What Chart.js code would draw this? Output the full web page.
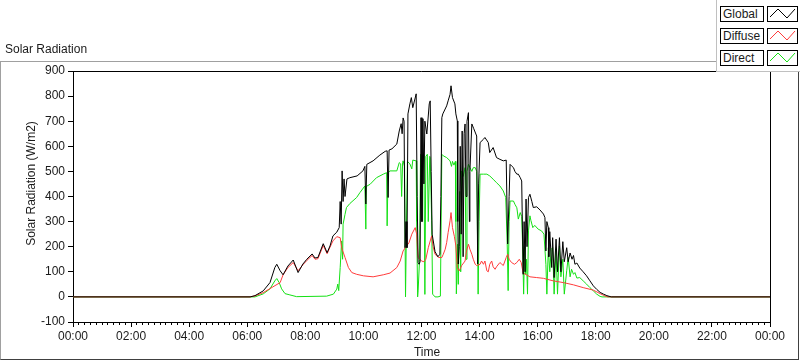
<!DOCTYPE html>
<html>
<head>
<meta charset="utf-8">
<script src="https://cdn.jsdelivr.net/npm/chart.js@4/dist/chart.umd.min.js"></script>
<style>
html,body{margin:0;padding:0;background:#fff;width:800px;height:361px;overflow:hidden;font-family:"Liberation Sans",Arial,sans-serif;}
#wrap{position:relative;width:800px;height:361px;}
#c{position:absolute;left:0;top:0;}
#frame{position:absolute;left:0;top:61px;width:797px;height:297px;border-top:1px solid #a0a0a0;border-left:1px solid #a0a0a0;border-right:1px solid #404040;border-bottom:1px solid #404040;pointer-events:none;}
#hdr{position:absolute;left:5px;top:42px;font-size:12px;color:#1a1a1a;white-space:nowrap;}
#legend{position:absolute;left:716px;top:0;width:84px;height:71px;background:#fff;border-left:1px solid #c0c0c0;border-bottom:1px solid #c0c0c0;}
.row{position:absolute;left:3px;width:80px;height:16px;}
.lab{position:absolute;left:0;top:0;width:40px;height:14px;border:1px solid #000;font-size:12px;line-height:14px;padding-left:2px;color:#1a1a1a;background:#fff;}
.ico{position:absolute;left:47px;top:0;width:29px;height:14px;border:1px solid #000;background:#fff;}
.ico svg{display:block;}
</style>
</head>
<body>
<div id="wrap">
  <canvas id="c" width="800" height="361"></canvas>
  <div id="frame"></div>
  <div id="hdr">Solar Radiation</div>
  <div id="legend">
    <div class="row" style="top:6px"><div class="lab">Global</div><div class="ico"><svg width="29" height="14"><polyline points="2,10 10,2 19,11 27,2" fill="none" stroke="#000" stroke-width="1"/></svg></div></div>
    <div class="row" style="top:28px"><div class="lab">Diffuse</div><div class="ico"><svg width="29" height="14"><polyline points="2,10 10,2 19,11 27,2" fill="none" stroke="#ff3b3b" stroke-width="1"/></svg></div></div>
    <div class="row" style="top:50px"><div class="lab">Direct</div><div class="ico"><svg width="29" height="14"><polyline points="2,10 10,2 19,11 27,2" fill="none" stroke="#14e014" stroke-width="1"/></svg></div></div>
  </div>
</div>
<script>
// ---- data (time in minutes of the day, values in W/m2) ----
const seriesNames = ['Global', 'Diffuse', 'Direct'];
const xTickStepMin = 120;
const yTicks = [-100, 0, 100, 200, 300, 400, 500, 600, 700, 800, 900];

const globalTime = [
  0,366,376,393,407,417,421,428,434,444,
  455,465,475,483,494,500,506,517,525,531,
  537,545,550,552,554,556,558,560,562,566,
  572,587,599,603,605,607,620,634,645,649,
  651,653,659,669,674,678,680,682,684,686,
  688,690,692,696,699,702,709,711,713,715,
  717,719,721,723,725,727,731,736,738,740,
  742,748,754,758,760,762,764,772,775,779,
  781,784,789,791,794,795,796,798,800,802,
  804,806,808,810,812,814,817,819,820,824,
  828,834,836,838,841,848,851,858,861,868,
  875,882,889,895,898,901,903,906,910,913,
  917,920,924,927,930,932,934,936,938,941,
  944,948,951,958,965,972,975,977,979,982,
  983,985,989,991,994,998,1001,1005,1008,1012,
  1015,1020,1023,1027,1031,1034,1037,1041,1047,1054,
  1061,1068,1075,1082,1089,1096,1103,1112,1440
];
const globalVal = [
  0,0,5,24,57,117,130,104,88,123,
  147,97,131,150,171,155,157,212,176,203,
  243,258,276,380,290,502,380,470,400,470,
  475,482,502,520,370,528,542,565,580,582,
  396,585,590,609,661,690,650,713,700,196,
  300,196,729,769,794,754,809,400,137,130,
  140,714,300,710,450,700,649,769,781,500,
  250,180,160,170,400,714,729,761,781,807,
  841,794,769,729,701,300,131,200,600,250,
  661,160,650,689,400,700,734,300,500,689,
  670,641,131,450,615,628,635,615,575,595,
  555,548,542,545,211,400,528,522,515,500,
  489,489,475,462,90,300,100,390,200,396,
  409,380,356,359,346,330,316,183,300,276,
  160,260,117,236,77,230,100,236,100,220,
  140,196,140,175,150,165,130,135,115,100,
  84,64,44,30,18,11,5,0,0
];

const diffuseTime = [
  0,366,376,393,413,428,434,444,455,465,
  475,483,494,500,506,517,525,531,537,545,
  552,555,562,569,576,586,600,620,641,655,
  669,676,682,689,694,700,707,710,713,720,
  725,729,734,741,744,748,755,762,765,769,
  772,775,779,781,784,788,791,794,798,803,
  810,813,817,820,824,827,831,834,841,844,
  848,851,855,858,861,865,868,872,875,882,
  886,889,895,898,901,906,912,917,922,926,
  930,937,944,958,972,992,1013,1034,1054,1075,
  1089,1099,1105,1440
];
const diffuseVal = [
  0,0,4,17,40,57,88,117,137,104,
  128,145,165,150,152,205,172,198,223,240,
  236,196,157,117,97,90,84,80,88,95,
  117,143,183,203,215,250,276,250,157,143,
  140,150,196,243,200,170,157,157,170,190,
  216,256,303,336,276,240,203,117,104,125,
  143,183,210,190,170,150,130,125,130,143,
  130,143,104,100,130,143,120,110,120,137,
  130,125,157,170,150,137,130,137,150,137,
  95,88,80,77,74,64,57,48,37,27,
  13,4,0,0
];

const directTime = [
  0,376,393,407,417,421,426,431,438,448,
  462,524,538,545,547,549,552,555,557,558,
  562,565,572,586,593,603,605,606,614,627,
  641,648,649,651,655,669,674,677,679,681,
  682,685,687,689,691,696,700,702,709,710,
  712,713,716,718,720,722,725,727,729,732,
  734,737,738,741,743,748,754,759,762,765,
  772,779,782,784,787,790,791,792,795,796,
  799,801,803,806,810,812,814,817,820,824,
  827,831,834,836,837,839,841,848,855,861,
  868,875,882,889,894,897,899,901,903,910,
  913,917,920,924,927,929,931,933,935,937,
  939,941,944,946,950,954,961,968,973,977,
  979,982,985,988,991,994,998,1001,1005,1008,
  1012,1015,1020,1023,1027,1030,1034,1037,1041,1047,
  1054,1061,1068,1075,1082,1089,1093,1440
];
const directVal = [
  0,0,12,32,64,73,57,32,13,8,
  1,3,11,31,51,25,117,223,150,290,
  329,356,372,396,416,442,270,440,449,475,
  489,495,283,495,502,502,535,530,400,535,
  542,520,0,300,540,530,510,545,542,300,
  0,24,150,568,440,565,566,10,560,568,
  300,560,555,303,11,0,0,3,568,562,
  555,542,520,540,525,540,300,12,210,50,
  420,100,502,480,515,150,500,528,515,500,
  515,515,500,200,11,300,489,489,489,482,
  469,455,442,422,396,216,25,300,382,382,
  369,355,310,336,320,200,11,200,90,150,
  11,263,323,305,276,285,270,263,250,130,
  11,196,100,190,196,11,190,11,203,80,
  150,11,104,157,80,110,90,97,75,77,
  64,51,37,24,11,2,0,0
];

// ---- chart ----
function zip(t, v) { return t.map((x, i) => ({ x: x, y: v[i] })); }
function fmt(v) {
  const m = Math.round(v) % 1440;
  const h = Math.floor(m / 60), mm = m % 60;
  return String(h).padStart(2, '0') + ':' + String(mm).padStart(2, '0');
}
const FONT = "'Liberation Sans', Arial, sans-serif";
const TXT = '#1a1a1a';

const framePlugin = {
  id: 'frameAndTitles',
  beforeDatasetsDraw(chart) {
    const { ctx, chartArea: a } = chart;
    ctx.save();
    ctx.strokeStyle = '#000';
    ctx.lineWidth = 1;
    ctx.beginPath();
    const t = Math.round(a.top) + 0.5, r = Math.round(a.right) + 0.5;
    ctx.moveTo(a.left, t); ctx.lineTo(r, t);
    ctx.moveTo(r, a.top); ctx.lineTo(r, a.bottom);
    ctx.stroke();
    ctx.restore();
  },
  afterDraw(chart) {
    const { ctx, chartArea: a } = chart;
    ctx.save();
    ctx.fillStyle = TXT;
    ctx.font = '12px ' + FONT;
    ctx.textAlign = 'center';
    ctx.textBaseline = 'middle';
    ctx.fillText('Time', (a.left + a.right) / 2 + 5.5, a.bottom + 31);
    ctx.translate(a.left - 41, (a.top + a.bottom) / 2 - 13);
    ctx.rotate(-Math.PI / 2);
    ctx.fillText('Solar Radiation (W/m2)', 0, 0);
    ctx.restore();
  }
};

const colors = ['#000000', '#ff3b3b', '#14e014'];
const seriesData = [zip(globalTime, globalVal), zip(diffuseTime, diffuseVal), zip(directTime, directVal)];

new Chart(document.getElementById('c'), {
  type: 'line',
  data: {
    datasets: seriesNames.map((n, i) => ({
      label: n,
      data: seriesData[i],
      borderColor: colors[i],
      backgroundColor: colors[i],
      borderWidth: 1,
      pointRadius: 0,
      tension: 0,
      fill: false,
      xAxisID: 'x',
      yAxisID: 'y'
    }))
  },
  options: {
    responsive: false,
    animation: false,
    devicePixelRatio: 1,
    parsing: true,
    layout: { padding: { left: 0, right: 30, top: 71, bottom: 0 } },
    plugins: { legend: { display: false }, tooltip: { enabled: false }, title: { display: false } },
    scales: {
      xm: {
        axis: 'x', type: 'linear', position: 'bottom', min: 0, max: 1440,
        ticks: { display: false, stepSize: 12, autoSkip: false },
        grid: { drawOnChartArea: false, drawTicks: true, tickLength: 3, color: '#000' },
        border: { display: false },
        afterFit(s) { s.height = 0; }
      },
      x: {
        axis: 'x', type: 'linear', position: 'bottom', min: 0, max: 1440,
        ticks: {
          stepSize: xTickStepMin, autoSkip: false, maxRotation: 0, padding: 2,
          color: TXT, font: { family: FONT, size: 12 },
          callback: (v) => fmt(v)
        },
        grid: { drawOnChartArea: false, drawTicks: true, tickLength: 5, color: '#000' },
        border: { display: true, color: '#000' },
        afterFit(s) { s.height = 39; }
      },
      y: {
        type: 'linear', position: 'left', min: yTicks[0], max: yTicks[yTicks.length - 1],
        afterBuildTicks(s) { s.ticks = yTicks.map(v => ({ value: v })); },
        ticks: { padding: 3, color: TXT, font: { family: FONT, size: 12 } },
        grid: { drawOnChartArea: false, drawTicks: true, tickLength: 5, color: '#000' },
        border: { display: true, color: '#000' },
        afterFit(s) { s.width = 73; }
      }
    }
  },
  plugins: [framePlugin]
});
</script>
</body>
</html>
